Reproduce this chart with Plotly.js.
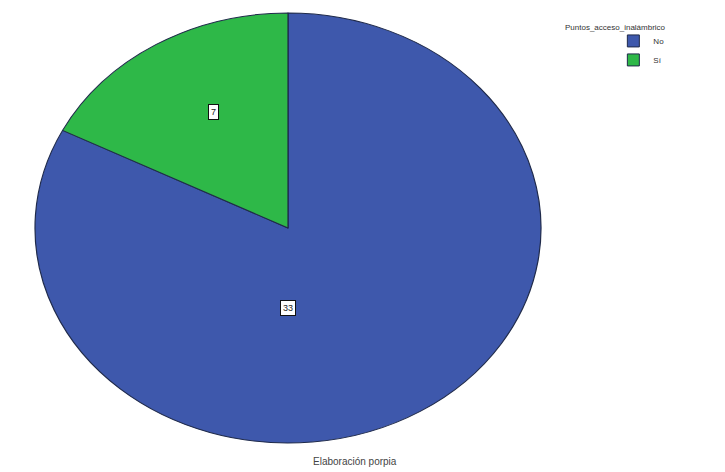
<!DOCTYPE html>
<html>
<head>
<meta charset="utf-8">
<script src="https://cdn.plot.ly/plotly-3.0.1.min.js"></script>
<style>html,body{margin:0;padding:0;background:#fff}#chart{width:725px;height:472px}</style>
</head>
<body>
<div id="chart"></div>
<script>
const categories = ['No', 'Sí'];
const values = [33, 7];
const sliceColors = ['#3e58ac', '#2eb848'];
const legendTitle = 'Puntos_acceso_inalámbrico';
const footnote = 'Elaboración porpia';

const W = 725, H = 472;
const cx = 288, cy = 228, ry = 215, rx = 253;

const trace = {
  type: 'pie',
  labels: categories,
  values: values,
  sort: false,
  direction: 'clockwise',
  rotation: 0,
  marker: {colors: sliceColors, line: {color: '#1f2a4a', width: 1}},
  textinfo: 'none',
  hoverinfo: 'label+value',
  domain: {x: [(cx - ry) / W, (cx + ry) / W], y: [1 - (cy + ry) / H, 1 - (cy - ry) / H]},
  showlegend: true
};

const labelFont = {family: 'Liberation Sans, Arial, sans-serif', size: 9, color: '#222'};
const labelBox = {bgcolor: '#ffffff', bordercolor: '#111', borderwidth: 1, borderpad: 2, showarrow: false, xref: 'paper', yref: 'paper', xanchor: 'center', yanchor: 'middle', font: labelFont};

const layout = {
  width: W, height: H,
  margin: {l: 0, r: 0, t: 0, b: 0},
  paper_bgcolor: '#fff',
  font: {family: 'Liberation Sans, Arial, sans-serif', size: 8, color: '#333'},
  showlegend: true,
  legend: {
    x: 0.846, y: 0.944, xanchor: 'left', yanchor: 'top',
    traceorder: 'normal',
    font: {size: 8, color: '#333'},
    tracegroupgap: 0,
    bgcolor: 'rgba(0,0,0,0)'
  },
  annotations: [
    {text: legendTitle, x: 0.777, y: 0.941, xref: 'paper', yref: 'paper', xanchor: 'left', yanchor: 'middle', showarrow: false, font: {size: 8, color: '#333'}},
    {text: footnote, x: 0.49, y: 0.022, xref: 'paper', yref: 'paper', xanchor: 'center', yanchor: 'middle', showarrow: false, font: {size: 10, color: '#444'}},
    Object.assign({text: String(values[1]), x: 213 / W, y: 1 - 112 / H}, labelBox),
    Object.assign({text: String(values[0]), x: 288 / W, y: 1 - 308 / H}, labelBox)
  ]
};

Plotly.newPlot('chart', [trace], layout, {displayModeBar: false, staticPlot: true}).then(function () {
  const sx = rx / ry;
  document.querySelectorAll('#chart .pielayer').forEach(function (g) {
    g.setAttribute('transform', 'translate(' + cx + ',0) scale(' + sx + ',1) translate(' + (-cx) + ',0)');
  });
});
</script>
</body>
</html>
